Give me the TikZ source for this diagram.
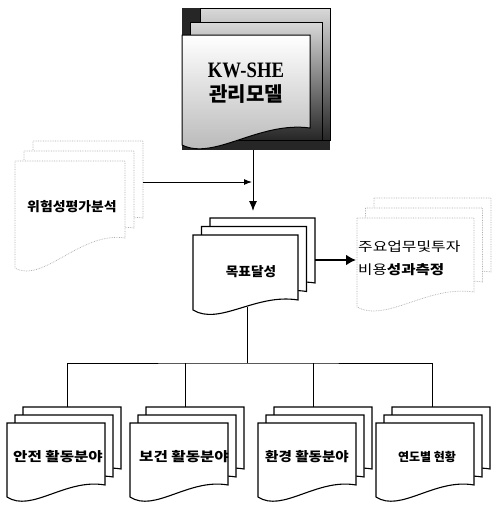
\documentclass[tikz,border=0pt]{standalone}
\usepackage{fontspec}
\usetikzlibrary{arrows.meta}
\newfontfamily\kr{Noto Sans CJK KR}
\newfontfamily\titlefont{Liberation Serif}

% one sheet with a wavy lower edge: style, x, y, width, height, rise of the right end
\newcommand\docsheet[6]{%
  \path[#1] ({#2},{#3}) -- ({#2+#4},{#3}) -- ({#2+#4},{#3+#5-#6})
    .. controls ({#2+0.6*#4},{#3+#5-#6-7}) and ({#2+0.25*#4},{#3+#5+16}) .. ({#2},{#3+#5}) -- cycle;}
% a stack of three such sheets, each shifted by (dx,-dy)
\newcommand\docstack[8]{%
  \docsheet{#1}{#2+2*#7}{#3-2*#8}{#4}{#5}{#6}%
  \docsheet{#1}{#2+#7}{#3-#8}{#4}{#5}{#6}%
  \docsheet{#1}{#2}{#3}{#4}{#5}{#6}}
% horizontally widened Korean label
\newcommand\wide[2][1.15]{\scalebox{#1}[1]{#2}}

\tikzset{
  sheet/.style={draw=black, line width=1.1pt, fill=white},
  faint/.style={draw=gray!65, line width=0.7pt, densely dotted, fill=white},
  conn/.style={line width=1pt},
  arr/.style={conn, -{Latex[length=10pt,width=8pt]}},
  arrthin/.style={conn, -{Latex[length=8pt,width=6pt]}},
  thickarr/.style={line width=2.6pt, -{Latex[length=10pt,width=11pt]}},
  label/.style={inner sep=0pt, font=\kr\bfseries\fontsize{13}{15}\selectfont},
}

\begin{document}
\begin{tikzpicture}[x=1pt,y=-1pt]
\useasboundingbox (0,0) rectangle (492,506);

% --- KW-SHE model: shaded stack on a dark backing
\fill[black!85] (182,8) rectangle (330,150);
\path[draw=black, line width=1pt, top color=gray!30, middle color=gray!50, bottom color=black!85]
  (200,8) rectangle (330,140);
\path[draw=black, line width=1pt, top color=gray!30, middle color=gray!50, bottom color=black!85]
  (190,22) rectangle (322,140);
\docsheet{draw=black, line width=1pt, top color=white, middle color=white, bottom color=gray!60}{182}{35}{128}{110}{17}

% --- risk analysis (faint)
\docstack{faint}{15}{161}{110}{107}{30}{9}{10}
% --- goal achievement
\docstack{sheet}{193}{235}{105}{75}{10}{8.5}{8.5}
% --- investment measurement (faint)
\docstack{faint}{357}{218}{117}{89}{15}{8.5}{10}
% --- four activity fields
\docstack{sheet}{7}{423}{98}{74}{12}{8}{8}
\docstack{sheet}{130}{423}{98}{74}{12}{8}{8}
\docstack{sheet}{258}{423}{98}{74}{12}{8}{8}
\docstack{sheet}{376}{423}{98}{74}{12}{8}{8}

% --- labels
\node[inner sep=0pt] (kw) at (246,70)
  {\titlefont\bfseries\fontsize{22}{24}\selectfont\scalebox{0.85}[1]{KW-SHE}};
\node[inner sep=0pt] (kwname) at (246,94)
  {\kr\bfseries\fontsize{20}{22}\selectfont 관리모델};
\node[label] (risk) at (72,207) {\wide[1.07]{위험성평가분석}};
\node[label] (goal) at (251,272) {\wide[1.05]{목표달성}};
\node[label, anchor=west, align=left] (invest) at (358,258)
  {\wide[1.22]{\mdseries 주요업무및투자}\\[8pt]\wide[1.2]{\mdseries 비용\bfseries 성과측정}};
\node[label] (safe) at (58,457) {\wide[1.2]{안전 활동분야}};
\node[label] (health) at (184,457) {\wide[1.2]{보건 활동분야}};
\node[label] (env) at (307,457) {\wide[1.12]{환경 활동분야}};
\node[label, font=\kr\bfseries\fontsize{12}{14}\selectfont] (year) at (427,457) {연도별 현황};

% --- connector end points
\coordinate (kw-out) at (253,150);
\coordinate (goal-in) at (253,211);
\coordinate (risk-out) at (143,182);
\coordinate (join) at (252,182);
\coordinate (goal-out) at (315,260);
\coordinate (invest-in) at (356,260);
\coordinate (goal-down) at (247,307);
\coordinate (bus) at (247,363);
\coordinate (safe-in) at (67,407);
\coordinate (health-in) at (185,407);
\coordinate (env-in) at (313,407);
\coordinate (year-in) at (432,407);

% --- connectors
\draw[arr] (kw-out) -- (goal-in);
\draw[arrthin] (risk-out) -- (join);
\draw[thickarr] (goal-out) -- (invest-in);
\draw[conn] (goal-down) -- (bus);
\draw[conn] (safe-in) |- (bus) -| (year-in);
\draw[conn] (health-in) -- (health-in |- bus);
\draw[conn] (env-in) -- (env-in |- bus);
\end{tikzpicture}
\end{document}
